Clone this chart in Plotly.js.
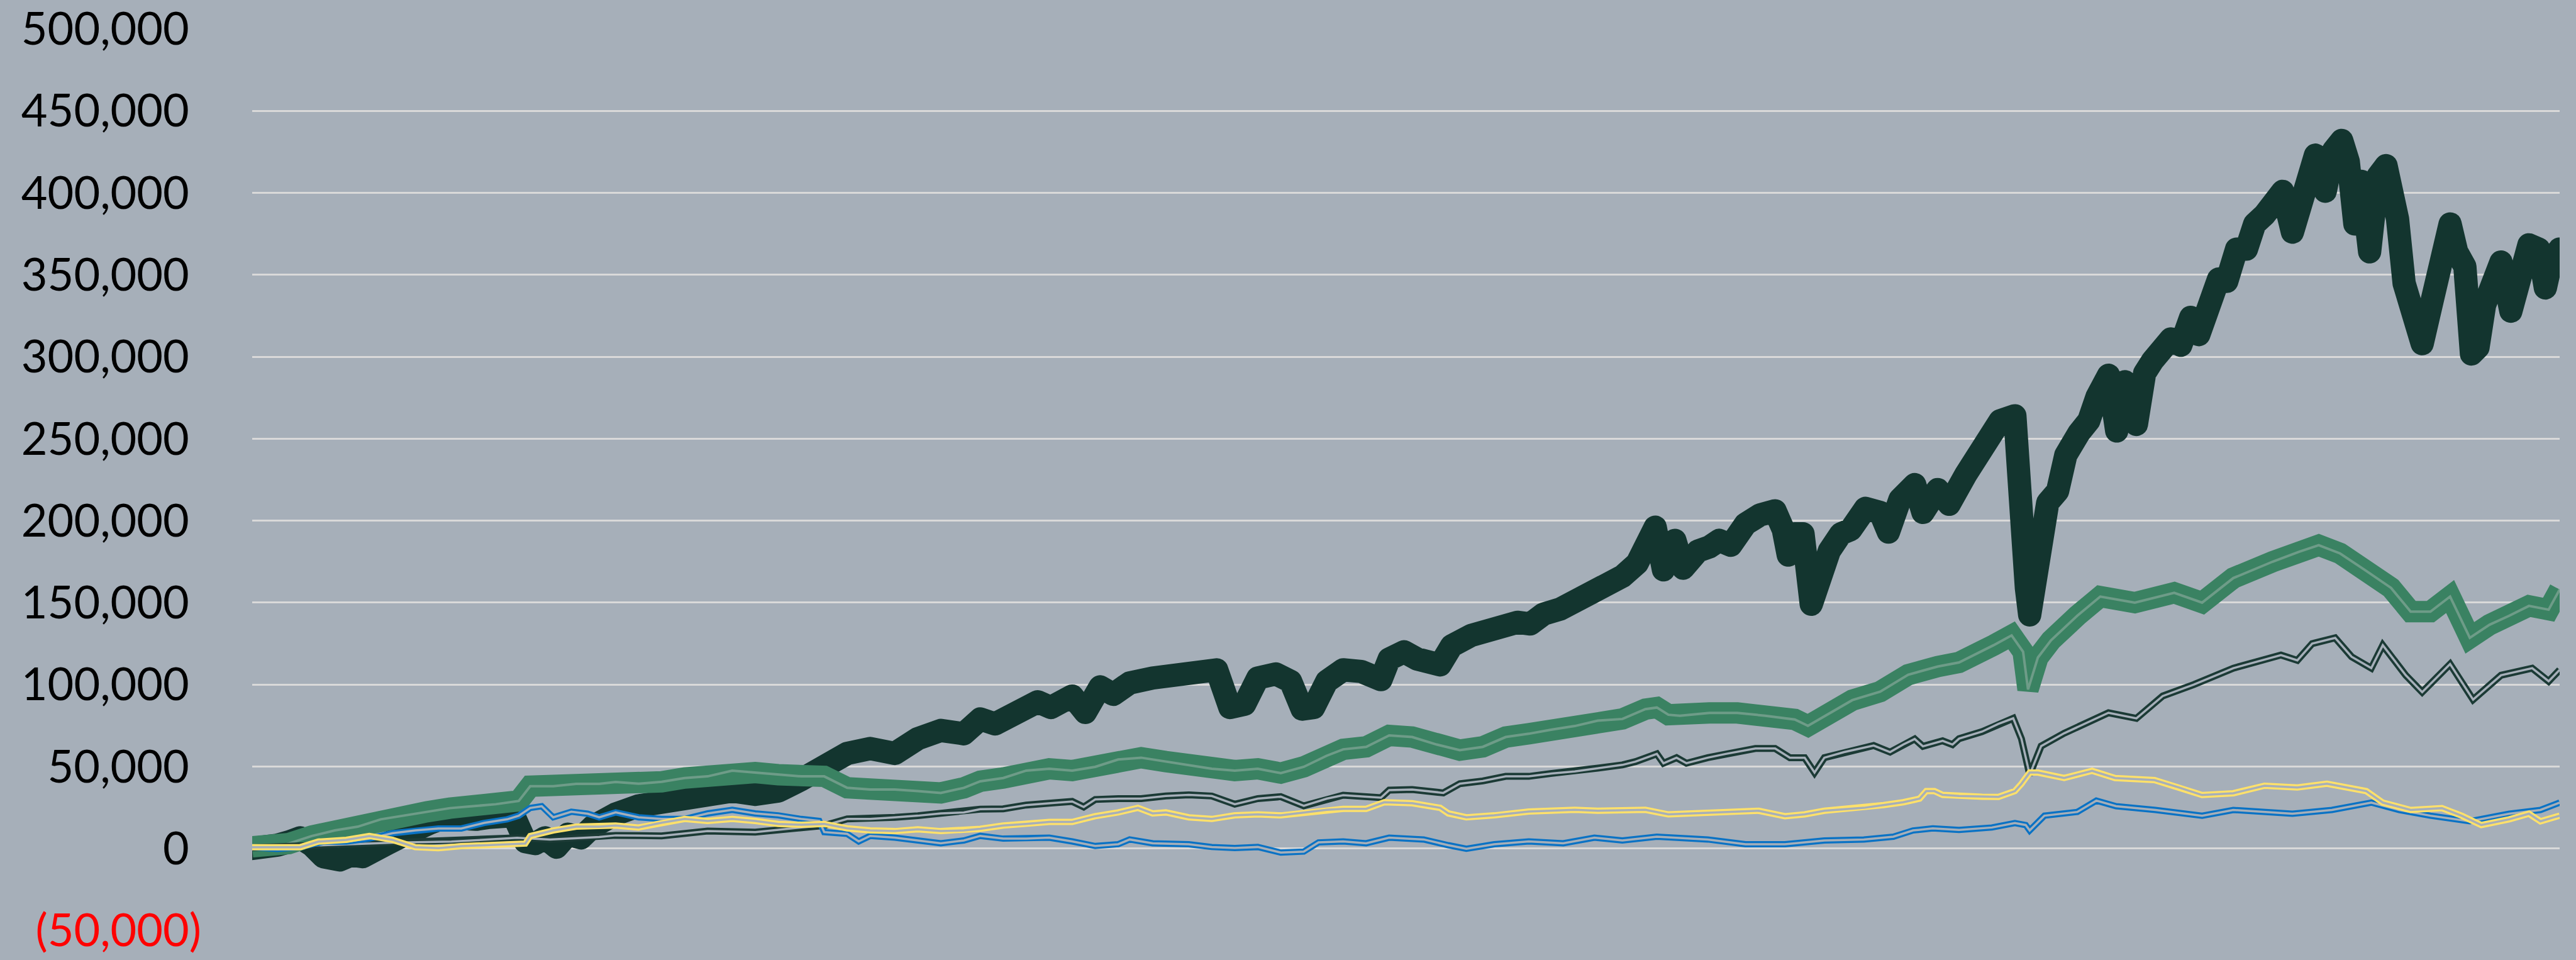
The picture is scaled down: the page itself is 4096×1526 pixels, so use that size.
<!DOCTYPE html>
<html>
<head>
<meta charset="utf-8">
<script src="https://cdn.plot.ly/plotly-3.0.1.min.js"></script>
<style>
  html, body { margin: 0; padding: 0; background: #A6AFB9; overflow: hidden; }
  #chart { width: 4096px; height: 1526px; }
</style>
</head>
<body>
<div id="chart"></div>
<script>
// ---- DATA (x in weeks from start, values in currency units) ----
const thickX = [-0.65,3.5,7,10.5,14,17.5,21,26,29.5,33,36.5,40.5,45,49,53.5,58,63,67.5,71.5,75.5,79,82.5,85.5,88.5,92,95.5,99.5,103,106.5,110,117,124,131,138,145.5,152.5,159.5,166.5,173.5,180.5,187.5,195,202,209,216,221,225.5,231.5,238.5,242.5,249,253,257.5,261.5,266.5,273.5,281,288,293,297,301.5,305.5,311,315.5,319,322.5,326.5,331.5,337,343,345.5,350,354,361,364.5,370.5,377.5,384.5,388.5,392.5,397.5,402.5,407.5,412.5,416.5,421,426.5,429,432.5,435,439.5,443,446,449.5,454,458.5,463,465.5,467,469,471.5,474,476.5,479.5,483,486,490.5,495,497.5,501,505.5,508,512.5,516,521,524.5,527,529.5,531.5,536,537.5,539.5,540.5,542,543.5,546,549,551.5,555.5,558.5,561,564.5,567,569.5,573,575.5,578,581,583.5,586.5,589.5,592,595,598,600.5,603.5,606.5,609,612,615,617.5,620.5,622.5,625,627.5,630.5,633,635.5,637.5,639.5,641.5,644,646.5,649,651,652.5,654.5,657,660,663,665.5,668.5,670.5,673,675,677,679,682,684,687,690,692.5,695.5,697.5,699.5,701.85];
const thickY = [0,0,2000,4000,6500,2000,-5000,-7000,-4000,-5000,-2600,3000,7600,13000,15500,19000,16700,17800,19000,17800,20000,4200,3000,6500,800,8700,6500,13300,17800,21000,26000,28000,28000,30000,35000,33000,35000,42000,51000,58000,61000,58000,67000,72000,70000,79000,76000,81500,89500,86000,93000,83000,98600,94000,101000,104000,106500,106500,109000,86000,88000,104000,106500,102000,85000,86000,102000,109000,108000,103000,115600,120000,115600,112000,123600,130000,135000,138000,137000,143000,146000,151000,156000,163000,166000,174000,196000,170000,188000,171000,181500,184000,188000,185000,198000,203600,206000,194500,179000,192000,192000,149000,166000,181500,192000,194500,207500,205000,193000,213000,222000,205000,219000,210000,228000,240000,250000,255000,261000,264000,185000,159000,142500,166000,185000,211000,218000,240000,253500,261000,275600,288700,254700,284800,258700,290000,297800,303000,310900,307000,324000,313500,337000,347400,346000,365700,365700,381000,386600,394400,400900,376000,394000,415000,423000,401000,425700,432000,419000,381000,407000,364000,410000,416600,397000,384000,344800,331700,308000,334000,355000,381000,364000,355000,301700,305700,331700,350000,357800,327800,347400,368300,365700,342000,360000,365700];

const greenX = [-0.65,7,10.5,17.5,24.5,31.5,38.5,45.5,52.5,59.5,66.5,73.5,80.5,84,91,98,105,110,117,124,131,138,145.5,152.5,159.5,166.5,173.5,180.5,187.5,195,202,209,216,221,228,235,242,249,256,263,270,277.5,284.5,291.5,298.5,305.5,312.5,319.5,326.5,331.5,338.5,345.5,352.5,360,367,374,381,388,395,402,409,416.5,423.5,427,430.5,434,443,451.5,460,469,473,477.5,486.5,495,503.5,512.5,519,529.5,535,538.5,540,543,547,555,562,572.5,584.5,593,602.5,614.5,622.5,628.5,635,642.5,650.5,656.5,662.5,668.5,674.5,680.5,686.5,692.5,698.5,701.85];
const greenY = [1000,1000,3000,7600,11000,13300,17800,20000,22400,24600,25800,27000,29000,38000,38000,39400,39400,40600,39500,40700,43000,44000,47500,46300,45000,44000,44000,37000,36000,36000,35000,33900,37000,41000,43000,47500,48600,47500,49800,54300,55400,53000,51000,48600,47500,48600,46000,49800,56600,60500,62000,69000,68000,63400,60000,62000,68000,70000,72500,74700,78000,79000,85000,86000,81600,81000,82700,82700,81000,78700,74800,80000,90500,95700,106000,111000,113500,124000,130000,120000,97000,116500,127000,142000,153700,150000,156000,150000,165000,175000,181000,185000,180000,170000,159000,144500,144500,153700,128500,136500,142000,148000,145700,158000];

const thinX = [-0.65,21,42,60,80,90,105,110,124,138,152.5,166.5,173.5,180.5,187.5,195,202,209,216,221,228,235,242,249,252.5,256,263,270,277.5,284.5,291.5,297,298.5,305.5,312.5,319.5,326.5,331.5,343,345.5,352.5,362,367,374,381,388,395,402,409,416.5,420.5,427,429,433,436,442.5,448,457,463,467.5,472,475,478,484,493,498,502,505.5,508,514,517,519,526,531,535.5,538,540.5,544,551,564.5,573,581,590.5,602.5,617,622,626.5,633.5,638.5,644.5,648,655,660,668.5,675.5,684,693.5,698.5,701.85];
const thinY = [500,2000,3500,4200,6500,5500,7000,8000,7700,10600,10000,12800,14000,18000,18000,19000,20000,21400,22000,24000,24200,26500,27600,28700,25300,29900,30400,30400,32000,32700,32000,28000,27000,30400,31600,26000,30400,32500,31000,35600,36000,33900,39500,41200,44000,44000,45800,47000,49000,51000,53000,57700,52000,55400,52000,55400,57700,61000,61000,55400,55400,46300,55400,58800,62800,58800,63400,66800,62300,65700,63400,67000,71300,76000,79400,66900,45000,62500,70300,82800,79400,93000,100000,110000,118000,114800,125000,128500,117000,110000,124000,105700,95400,112500,90800,105700,110000,102000,109000];

const yellowX = [-0.65,7,14,19.5,28,35,42,49,56,63,70,77,82.5,84,91,98,105,110,117,124,131,138,145.5,152.5,159.5,166.5,173.5,180.5,187.5,195,202,209,216,221,228,235,242,249,256,263,269,273.5,277.5,284.5,291.5,298.5,305.5,312.5,319.5,326.5,331.5,338.5,344,352.5,361,363.5,369,377.5,388,402,409,423.5,430.5,437.5,442.5,451,458,466,472,478,490,496,502,507,509,511.5,514,519,526,531,536,538,540.5,543,551,559.5,566.5,578.5,586,593,602.5,612,622,631,643,648,656.5,666,672,678,686.5,692.5,696,701.85];
const yellowY = [800,800,800,4200,5300,7600,5300,800,200,1400,2000,2500,3000,7600,11000,13300,13300,14000,12800,15700,18000,16800,18000,16800,15000,14500,15000,12300,11000,10600,11700,10600,11000,12000,14000,15000,16200,16200,19700,22000,24800,21400,22000,19000,18000,20200,20800,20200,22000,23600,24200,24200,28200,27600,24800,21400,19000,20200,22500,23600,23000,23600,20800,21400,21700,22500,23000,19700,20800,23000,24800,26500,28200,30400,35000,35000,32700,32000,31600,31500,35000,39500,46300,46300,43000,47400,43000,41700,37200,32600,33700,38300,37200,39500,35000,28000,23500,24600,20000,14300,17800,21200,16600,20000];

const blueX = [-0.65,7,14,21,28,35,42,49,56,63,70,77,80.5,84,87.5,91,96.5,101.5,105,110,117,124,131,138,145.5,152.5,159.5,166.5,172,173.5,180.5,184,187.5,195,202,209,216,221,228,235,242,249,256,263,266.5,273.5,284.5,291.5,298.5,305.5,312.5,319.5,324,331.5,338.5,345.5,356,363.5,369,377.5,388,398.5,408,416.5,427,437.5,442.5,454,466,478,490,499,505,511,519,529,536,539.3,540.5,545,555,560.8,566.8,578.8,593,602.5,620.5,632.5,644.5,653,662.5,674.5,686.5,696,701.85];
const blueY = [800,-300,800,4200,4200,6000,9300,11000,12200,12200,15600,17800,20000,24700,25800,19000,22400,21200,19000,22000,19000,18000,18000,21400,23600,21400,20200,18000,16800,10000,8900,4300,7700,6600,4900,3200,4900,7700,6000,6000,6600,4300,1500,2600,5500,3200,2600,900,300,900,-2500,-1900,3700,4300,3200,6600,5500,2000,-200,2600,4300,3200,6600,4900,7200,6000,5500,2600,2600,4900,5500,7200,11000,12300,11300,12800,15500,14300,11000,20000,22300,29200,25800,23500,20000,23500,21200,23500,28000,23500,20000,16600,21200,23500,28000];

const yTickVals = [-50000,0,50000,100000,150000,200000,250000,300000,350000,400000,450000,500000];
const yTickLabels = ["(50,000)","0","50,000","100,000","150,000","200,000","250,000","300,000","350,000","400,000","450,000","500,000"];

// ---- STYLE ----
const BG = '#A6AFB9';
const GRID = '#D9D9D9';
const C_THICK = '#13352F';
const C_GREEN = '#3A8262';
const C_GREEN_IN = '#6E9C88';
const C_THIN = '#1B3A35';
const C_YELLOW = '#FFE16A';
const C_BLUE = '#0A72C4';

function hollow(x, y, color, outer, inner, innerColor) {
  return [
    {x: x, y: y, type: 'scatter', mode: 'lines', line: {color: color, width: outer}, hoverinfo: 'skip', showlegend: false},
    {x: x, y: y, type: 'scatter', mode: 'lines', line: {color: innerColor || BG, width: inner}, hoverinfo: 'skip', showlegend: false}
  ];
}

const traces = [
  {x: thickX, y: thickY, type: 'scatter', mode: 'lines', line: {color: C_THICK, width: 37}, hoverinfo: 'skip', showlegend: false},
  ...hollow(greenX, greenY, C_GREEN, 34, 4, C_GREEN_IN),
  ...hollow(thinX, thinY, C_THIN, 11, 3.5),
  ...hollow(blueX, blueY, C_BLUE, 10, 3.5),
  ...hollow(yellowX, yellowY, C_YELLOW, 10, 3.5)
];

const tickText = yTickLabels.map(function (t) {
  if (t.charAt(0) === '(') return "<span style='color:#FF0000'>" + t + "</span>";
  return t + "<span style='color:rgba(0,0,0,0)'>)</span>";
});

const layout = {
  width: 4096, height: 1526,
  margin: {l: 401, r: 26, t: 46, b: 47, pad: 0},
  paper_bgcolor: BG, plot_bgcolor: BG,
  showlegend: false,
  xaxis: {range: [-0.65, 701.85], showgrid: false, zeroline: false, showticklabels: false, showline: false, ticks: ''},
  yaxis: {
    range: [-50000, 500000], tickmode: 'array', tickvals: yTickVals, ticktext: tickText,
    showgrid: true, gridcolor: GRID, gridwidth: 3, zeroline: false, showline: false, ticks: '',
    tickfont: {family: 'Lato, "Open Sans", sans-serif', size: 72, color: '#000000'},
    ticklabelstandoff: 80
  }
};

Plotly.newPlot('chart', traces, layout, {staticPlot: true, displayModeBar: false}).then(function (gd) {
  const tr = gd.querySelectorAll('.scatterlayer .trace');
  if (tr.length) {
    const p = tr[0].querySelector('.js-line');
    if (p) { p.style.strokeLinejoin = 'round'; p.style.strokeLinecap = 'round'; }
  }
});
</script>
</body>
</html>
